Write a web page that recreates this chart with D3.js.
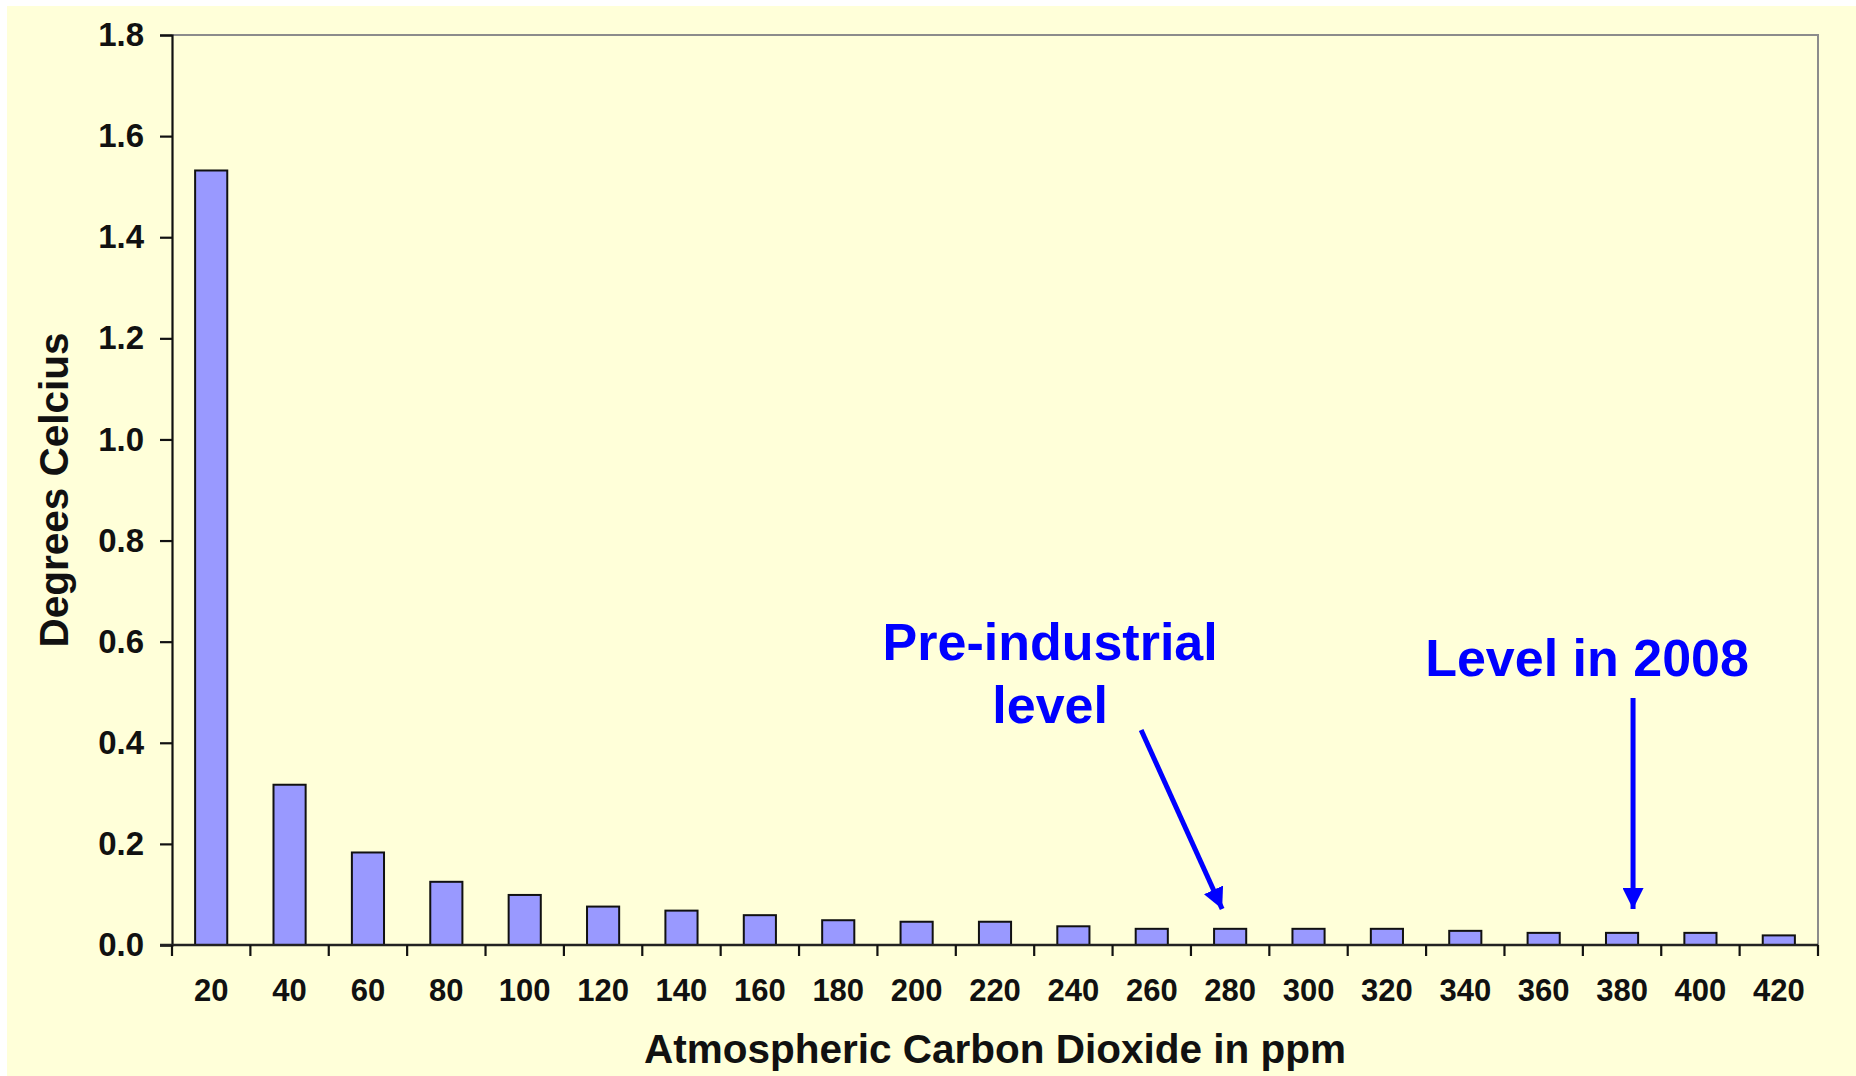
<!DOCTYPE html>
<html><head><meta charset="utf-8">
<script src="https://cdn.jsdelivr.net/npm/d3@7"></script>
<style>
html,body{margin:0;padding:0;background:#fff;overflow:hidden;}
svg{display:block;}
text{font-family:"Liberation Sans",Arial,sans-serif;font-weight:bold;}
</style></head>
<body>
<svg id="chart" width="1856" height="1076"></svg>
<script>
// ---- data ----
const categories = ["20","40","60","80","100","120","140","160","180","200","220","240","260","280","300","320","340","360","380","400","420"];
const values = [1.532,0.317,0.183,0.125,0.099,0.076,0.068,0.059,0.049,0.046,0.046,0.037,0.032,0.032,0.032,0.032,0.028,0.024,0.024,0.024,0.019];
const yTicks = [0,0.2,0.4,0.6,0.8,1.0,1.2,1.4,1.6,1.8];
const xTitle = "Atmospheric Carbon Dioxide in ppm";
const yTitle = "Degrees Celcius";
const annotations = [
  {cat:"280", lines:["Pre-industrial","level"]},
  {cat:"380", lines:["Level in 2008"]}
];

// ---- layout ----
const svg = d3.select("#chart");
const L = 172, R = 1818, T = 35, B = 945;

svg.append("rect").attr("x",7).attr("y",6).attr("width",1856-7).attr("height",1076-6).attr("fill","#FFFFD9");

const x = d3.scaleBand().domain(categories).range([L,R]).padding(0);
const y = d3.scaleLinear().domain([0,1.8]).range([B,T]);

// frame top/right
svg.append("path").attr("d",`M${L},${T}H${R}V${B}`).attr("fill","none").attr("stroke","#8c8c8c").attr("stroke-width",2);

// bars
const bw = x.bandwidth()*0.41;
svg.append("g").selectAll("rect").data(values).join("rect")
  .attr("x",(d,i)=>x(categories[i])+x.bandwidth()/2-bw/2)
  .attr("y",d=>y(d))
  .attr("width",bw)
  .attr("height",d=>B-y(d))
  .attr("fill","#9999FF").attr("stroke","#111").attr("stroke-width",2);

// y axis
const yAxis = d3.axisLeft(y).tickValues(yTicks).tickFormat(d3.format(".1f")).tickSize(12).tickPadding(16);
const gy = svg.append("g").attr("transform",`translate(${L},0)`).call(yAxis);
gy.select(".domain").attr("stroke","#111").attr("stroke-width",2.2);
gy.selectAll(".tick line").attr("stroke","#111").attr("stroke-width",2.2);
gy.selectAll(".tick text").attr("font-size",33).attr("fill","#111").attr("font-family","Liberation Sans, Arial, sans-serif").attr("font-weight","bold");

// x axis (labels)
const xAxis = d3.axisBottom(x).tickSize(0).tickPadding(34);
const gx = svg.append("g").attr("transform",`translate(0,${B})`).call(xAxis);
gx.select(".domain").remove();
gx.selectAll(".tick text").attr("font-size",31).attr("fill","#111").attr("font-family","Liberation Sans, Arial, sans-serif").attr("font-weight","bold");
// x axis line and boundary ticks
svg.append("line").attr("x1",L-12).attr("x2",R).attr("y1",B).attr("y2",B).attr("stroke","#222").attr("stroke-width",2.6);
const bounds = categories.map(c=>x(c)).concat([R]);
svg.append("g").selectAll("line").data(bounds).join("line")
  .attr("x1",d=>d).attr("x2",d=>d).attr("y1",B).attr("y2",B+11)
  .attr("stroke","#111").attr("stroke-width",2.2);

// titles
svg.append("text").attr("x",(L+R)/2).attr("y",1063).attr("text-anchor","middle").attr("font-size",40.5).attr("fill","#111").text(xTitle);
svg.append("text").attr("transform",`translate(68,${(T+B)/2}) rotate(-90)`).attr("text-anchor","middle").attr("font-size",40.5).attr("fill","#111").text(yTitle);

// annotations
const defs = svg.append("defs");
defs.append("marker").attr("id","ah").attr("viewBox","0 0 10 10").attr("refX",10).attr("refY",5)
  .attr("markerWidth",4.2).attr("markerHeight",4.2).attr("orient","auto").attr("markerUnits","strokeWidth")
  .append("path").attr("d","M0,0L10,5L0,10z").attr("fill","#0000FF");

const cx = c => x(c)+x.bandwidth()/2;
// Pre-industrial
const a0 = annotations[0];
svg.append("text").attr("x",cx(a0.cat)-180).attr("y",660).attr("text-anchor","middle").attr("font-size",52).attr("fill","#0000FF")
  .selectAll("tspan").data(a0.lines).join("tspan").attr("x",cx(a0.cat)-180).attr("dy",(d,i)=>i?63:0).text(d=>d);
svg.append("line").attr("x1",cx(a0.cat)-89).attr("y1",730).attr("x2",cx(a0.cat)-8).attr("y2",909)
  .attr("stroke","#0000FF").attr("stroke-width",5).attr("marker-end","url(#ah)");
// Level in 2008
const a1 = annotations[1];
svg.append("text").attr("x",cx(a1.cat)-35).attr("y",676).attr("text-anchor","middle").attr("font-size",52).attr("fill","#0000FF").text(a1.lines[0]);
svg.append("line").attr("x1",cx(a1.cat)+11).attr("y1",698).attr("x2",cx(a1.cat)+11).attr("y2",909)
  .attr("stroke","#0000FF").attr("stroke-width",5).attr("marker-end","url(#ah)");
</script>
</body></html>
